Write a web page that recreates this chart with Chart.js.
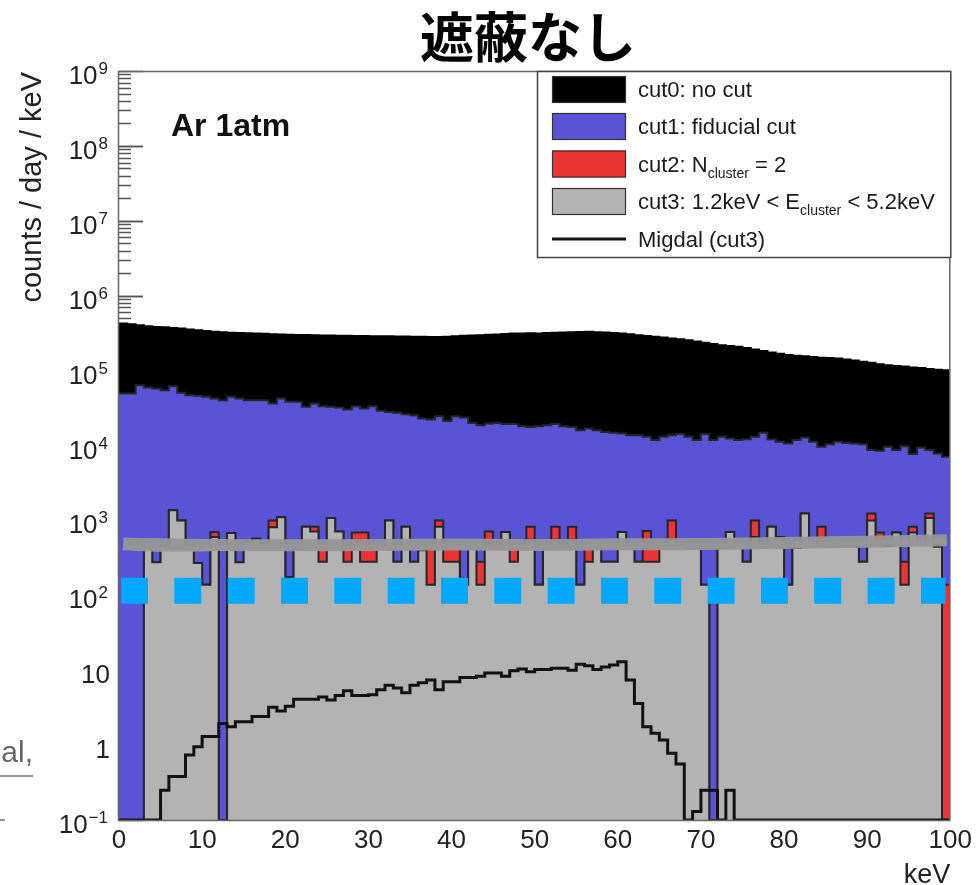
<!DOCTYPE html>
<html>
<head>
<meta charset="utf-8">
<title>遮蔽なし</title>
<script src="https://cdn.jsdelivr.net/npm/chart.js@4.4.1/dist/chart.umd.min.js"></script>
<style>
  html, body { margin: 0; padding: 0; background: #fff; }
  canvas { display: block; }
</style>
</head>
<body>
<canvas id="spectrum" width="977" height="885"></canvas>
<script>
// 1 keV bins from 0 to 100 keV (lower edges + last upper edge)
var binEdges = [];
for (var i = 0; i <= 100; i++) binEdges.push(i);

// counts / day / keV per bin
var cut0 = [
  425000, 415000, 404000, 392000, 383000, 378000, 370000, 364000, 355000, 345000,
  337000, 329000, 325000, 320000, 318000, 315000, 313000, 310000, 306000, 303000,
  301000, 299000, 298000, 297000, 295000, 294000, 292000, 291000, 290000, 289000,
  288000, 288000, 287000, 286000, 285000, 284000, 283000, 282000, 282000, 284000,
  287000, 291000, 294000, 297000, 300000, 304000, 308000, 312000, 314000, 315000,
  314000, 317000, 320000, 323000, 326000, 328000, 329000, 326000, 322000, 318000,
  313000, 306000, 297000, 290000, 283000, 276000, 268000, 262000, 255000, 245000,
  235000, 226000, 218000, 213000, 208000, 200000, 192000, 183000, 175000, 168000,
  161000, 158000, 155000, 152000, 149000, 147000, 145000, 141000, 136000, 131000,
  127000, 122000, 118000, 115000, 113000, 110000, 108000, 105000, 103000, 101000
];
var cut1 = [
  49500, 49500, 63800, 59600, 57700, 54800, 62000, 50500, 47000, 46000,
  44600, 42500, 40300, 44600, 42500, 40300, 40300, 40300, 36400, 42500,
  38300, 38300, 32800, 36400, 33500, 32800, 32100, 30300, 33500, 31200,
  33500, 29000, 28100, 27300, 26200, 25400, 23000, 22300, 24600, 21300,
  24600, 23700, 20000, 18700, 19700, 20000, 19300, 19300, 18100, 17700,
  18100, 18700, 19300, 18100, 17700, 16000, 16900, 16000, 15200, 14800,
  14500, 13700, 13700, 13100, 11800, 13100, 13700, 14200, 13100, 11800,
  14200, 11800, 13100, 12400, 11800, 12100, 13100, 14800, 12100, 11200,
  10600, 11800, 12800, 11200, 9600, 10400, 11200, 10800, 10600, 10400,
  8700, 8500, 9600, 8700, 9800, 7700, 9400, 8700, 7800, 7100
];
var cut2 = [
  0, 0, 0, 430, 277, 450, 1370, 1000, 470, 270,
  138, 700, 0, 680, 277, 520, 570, 500, 1000, 1100,
  175, 420, 820, 820, 500, 1080, 710, 460, 690, 690,
  460, 450, 1000, 280, 820, 280, 400, 500, 1000, 470,
  470, 138, 420, 280, 710, 420, 700, 480, 420, 820,
  138, 420, 820, 450, 820, 138, 480, 430, 280, 280,
  700, 450, 280, 720, 480, 450, 1000, 450, 430, 430,
  138, 0, 430, 700, 450, 280, 1000, 430, 820, 600,
  138, 430, 1240, 450, 820, 450, 450, 450, 450, 280,
  1240, 690, 460, 690, 280, 820, 500, 1240, 445, 138
];
var cut3 = [
  0, 0, 0, 430, 277, 450, 1370, 1000, 470, 270,
  138, 600, 0, 680, 277, 520, 570, 500, 810, 1100,
  175, 420, 820, 710, 280, 1080, 710, 280, 450, 280,
  280, 450, 1000, 280, 820, 280, 400, 138, 820, 280,
  280, 138, 420, 138, 500, 420, 700, 280, 420, 550,
  138, 420, 550, 450, 550, 138, 280, 430, 280, 280,
  700, 450, 280, 280, 280, 450, 550, 450, 430, 430,
  138, 0, 430, 700, 450, 280, 600, 430, 820, 600,
  138, 430, 1240, 450, 500, 450, 450, 450, 450, 280,
  1000, 500, 460, 690, 138, 690, 500, 1080, 445, 0
];
var migdal = [
  0, 0, 0, 0, 0, 0.25, 0.38, 0.38, 0.74, 0.95,
  1.3, 1.3, 1.95, 1.76, 2.05, 2.05, 2.4, 2.4, 3.2, 2.85,
  3.3, 4.1, 4.1, 4.1, 4.4, 4.0, 4.6, 5.3, 4.6, 4.6,
  4.7, 5.5, 6.3, 5.8, 5.0, 6.3, 6.8, 7.4, 5.5, 7.0,
  7.0, 8.0, 8.0, 8.3, 9.2, 9.2, 8.3, 9.8, 10.4, 9.5,
  10.2, 10.2, 10.6, 10.6, 10.0, 12.0, 11.5, 10.2, 11.0, 11.7,
  13.0, 7.4, 3.6, 1.76, 1.44, 1.17, 0.78, 0.56, 0, 0.13,
  0.25, 0.25, 0, 0.25, 0, 0, 0, 0, 0, 0,
  0, 0, 0, 0, 0, 0, 0, 0, 0, 0,
  0, 0, 0, 0, 0, 0, 0, 0, 0, 0
];

// hand-drawn marks over the plot
var guideX = [0.24, 99.4];
var guideY = [115, 115];
var strokeX = [0.5, 5, 12, 20, 30, 40, 50, 60, 70, 80, 90, 99.6];
var strokeY = [490, 480, 470, 465, 470, 475, 470, 480, 485, 500, 520, 545];
var strokeLowY = [430, 410, 420, 440, 430, 445, 440, 450, 455, 470, 495, 525];

var yMin = 0.1, yMax = 1e9;
var yTickExps = [-1, 0, 1, 2, 3, 4, 5, 6, 7, 8, 9];
var xTicks = [0, 10, 20, 30, 40, 50, 60, 70, 80, 90, 100];

var SANS = '"Liberation Sans", Arial, Helvetica, sans-serif';
var CJK = '"Noto Sans CJK JP", "Noto Sans CJK SC", sans-serif';

var legendRows = [
  { fill: '#000000', parts: [{ t: 'cut0: no cut' }] },
  { fill: '#5953d6', parts: [{ t: 'cut1: fiducial cut' }] },
  { fill: '#ed3434', parts: [{ t: 'cut2: N' }, { t: 'cluster', sub: true }, { t: ' = 2' }] },
  { fill: '#b3b3b3', parts: [{ t: 'cut3: 1.2keV < E' }, { t: 'cluster', sub: true }, { t: ' < 5.2keV' }] },
  { line: '#111111', parts: [{ t: 'Migdal (cut3)' }] }
];

function histPoints(vals) {
  var pts = [];
  for (var i = 0; i < vals.length; i++) {
    pts.push({ x: binEdges[i], y: Math.max(vals[i], yMin) });
  }
  pts.push({ x: binEdges[vals.length], y: Math.max(vals[vals.length - 1], yMin) });
  return pts;
}

function xyPoints(xs, ys) {
  return xs.map(function (x, i) { return { x: x, y: ys[i] }; });
}

function histSet(label, vals, color, order) {
  return {
    label: label,
    data: histPoints(vals),
    stepped: 'before',
    fill: 'start',
    backgroundColor: color,
    borderColor: color === '#000000' ? '#000000' : '#262626',
    borderWidth: 2,
    pointRadius: 0,
    order: order
  };
}

function drawRich(ctx, x, y, parts, size) {
  parts.forEach(function (p) {
    if (p.sub) {
      ctx.font = Math.round(size * 0.62) + 'px ' + SANS;
      ctx.fillText(p.t, x, y + 6);
    } else {
      ctx.font = size + 'px ' + SANS;
      ctx.fillText(p.t, x, y);
    }
    x += ctx.measureText(p.t).width;
  });
}

var decor = {
  id: 'decor',
  beforeDatasetsDraw: function (chart) {
    var ctx = chart.ctx, a = chart.chartArea, ys = chart.scales.y;
    ctx.save();
    ctx.strokeStyle = '#555';
    ctx.lineWidth = 1.5;
    for (var e = -1; e <= 8; e++) {
      for (var m = 1; m <= 10; m++) {
        var py = Math.round(ys.getPixelForValue(m * Math.pow(10, e))) + 0.5;
        var len = (m === 1 || m === 10) ? 24 : 12;
        ctx.beginPath();
        ctx.moveTo(a.left, py);
        ctx.lineTo(a.left + len, py);
        ctx.stroke();
      }
    }
    ctx.restore();
  },
  afterDatasetsDraw: function (chart) {
    var ctx = chart.ctx, a = chart.chartArea, ys = chart.scales.y;
    ctx.save();

    // frame
    ctx.strokeStyle = '#666';
    ctx.lineWidth = 1.5;
    ctx.strokeRect(a.left - 0.5, a.top + 0.5, a.right - a.left, a.bottom - a.top);

    // legend box
    var lx = 537, ly = 71.5, lw = a.right - lx, lh = 186;
    ctx.fillStyle = '#fff';
    ctx.fillRect(lx, ly, lw, lh);
    ctx.strokeStyle = '#444';
    ctx.lineWidth = 1.5;
    ctx.strokeRect(lx + 0.5, ly, lw, lh);
    var rowY = [89.5, 126.5, 164, 201.5, 239];
    legendRows.forEach(function (row, i) {
      var cy = rowY[i];
      if (row.fill) {
        ctx.fillStyle = row.fill;
        ctx.fillRect(552, cy - 13.5, 74, 27);
        ctx.strokeStyle = '#333';
        ctx.lineWidth = 1.2;
        ctx.strokeRect(552.5, cy - 13, 73, 26);
      } else {
        ctx.strokeStyle = row.line;
        ctx.lineWidth = 3;
        ctx.beginPath();
        ctx.moveTo(552, cy);
        ctx.lineTo(626, cy);
        ctx.stroke();
      }
      ctx.fillStyle = '#1a1a1a';
      ctx.textAlign = 'left';
      ctx.textBaseline = 'alphabetic';
      drawRich(ctx, 638, cy + 7.5, row.parts, 22);
    });

    // gas label
    ctx.fillStyle = '#111';
    ctx.font = 'bold 32px ' + SANS;
    ctx.textAlign = 'left';
    ctx.fillText('Ar 1atm', 171, 136);

    // y tick labels with exponents
    ctx.fillStyle = '#222';
    yTickExps.forEach(function (e) {
      var py = ys.getPixelForValue(Math.pow(10, e));
      ctx.textAlign = 'right';
      if (e === 0 || e === 1) {
        ctx.font = '26px ' + SANS;
        ctx.fillText(e === 0 ? '1' : '10', 110, py + 13);
      } else {
        var sup = e < 0 ? '\u2212' + (-e) : String(e);
        ctx.font = '17px ' + SANS;
        var sw = ctx.measureText(sup).width;
        ctx.fillText(sup, 108, py + 3);
        ctx.font = '26px ' + SANS;
        ctx.fillText('10', 108 - sw - 1, py + 13);
      }
    });
    ctx.restore();
  },
  afterDraw: function (chart) {
    var ctx = chart.ctx, a = chart.chartArea;
    ctx.save();
    ctx.fillStyle = '#000';
    ctx.font = 'bold 54px ' + CJK;
    ctx.textAlign = 'center';
    ctx.textBaseline = 'alphabetic';
    ctx.fillText('遮蔽なし', 528, 58);

    ctx.fillStyle = '#222';
    ctx.font = '27px ' + SANS;
    ctx.textAlign = 'right';
    ctx.fillText('keV', a.right, 883);

    ctx.save();
    ctx.translate(41, a.top + 1);
    ctx.rotate(-Math.PI / 2);
    ctx.font = '29px ' + SANS;
    ctx.textAlign = 'right';
    ctx.fillText('counts / day / keV', 0, 0);
    ctx.restore();

    // text left over at the page edge
    ctx.fillStyle = '#666';
    ctx.font = '30px ' + SANS;
    ctx.textAlign = 'right';
    ctx.fillText('al,', 33, 762);
    ctx.strokeStyle = '#777';
    ctx.lineWidth = 1.5;
    ctx.beginPath();
    ctx.moveTo(0, 776); ctx.lineTo(33, 776);
    ctx.moveTo(0, 820); ctx.lineTo(5, 820);
    ctx.stroke();
    ctx.restore();
  }
};

var chart = new Chart(document.getElementById('spectrum'), {
  type: 'line',
  data: {
    datasets: [
      {
        label: 'Migdal (cut3)',
        data: histPoints(migdal),
        stepped: 'before',
        fill: false,
        borderColor: '#111111',
        borderWidth: 3,
        pointRadius: 0,
        order: 1
      },
      {
        label: 'guide',
        data: xyPoints(guideX, guideY),
        fill: false,
        borderColor: '#00a9ff',
        borderWidth: 26,
        borderDash: [27, 26.33],
        borderCapStyle: 'butt',
        pointRadius: 0,
        order: 2
      },
      {
        label: 'stroke',
        data: xyPoints(strokeX, strokeY),
        fill: false,
        borderColor: 'rgba(150,150,150,0.95)',
        borderWidth: 12,
        tension: 0.4,
        pointRadius: 0,
        order: 3
      },
      {
        label: 'stroke edge',
        data: xyPoints(strokeX, strokeLowY),
        fill: false,
        borderColor: 'rgba(158,158,158,0.85)',
        borderWidth: 5,
        tension: 0.4,
        pointRadius: 0,
        order: 3
      },
      histSet('cut3: 1.2keV < E_cluster < 5.2keV', cut3, '#b3b3b3', 4),
      histSet('cut2: N_cluster = 2', cut2, '#ed3434', 5),
      histSet('cut1: fiducial cut', cut1, '#5953d6', 6),
      histSet('cut0: no cut', cut0, '#000000', 7)
    ]
  },
  options: {
    responsive: false,
    animation: false,
    events: [],
    layout: { padding: { left: 0, right: 24, top: 71, bottom: 0 } },
    plugins: {
      legend: { display: false },
      title: { display: false },
      tooltip: { enabled: false }
    },
    scales: {
      x: {
        type: 'linear',
        min: 0,
        max: 100,
        afterBuildTicks: function (scale) {
          scale.ticks = xTicks.map(function (v) { return { value: v }; });
        },
        afterFit: function (scale) { scale.height = 65; },
        grid: { display: false, drawTicks: false },
        border: { display: false },
        ticks: {
          maxRotation: 0,
          autoSkip: false,
          padding: 5,
          color: '#222',
          font: { family: SANS, size: 26 }
        }
      },
      y: {
        type: 'logarithmic',
        min: yMin,
        max: yMax,
        afterFit: function (scale) { scale.width = 119; },
        grid: { display: false, drawTicks: false },
        border: { display: false },
        ticks: { display: false }
      }
    }
  },
  plugins: [decor]
});
</script>
</body>
</html>
